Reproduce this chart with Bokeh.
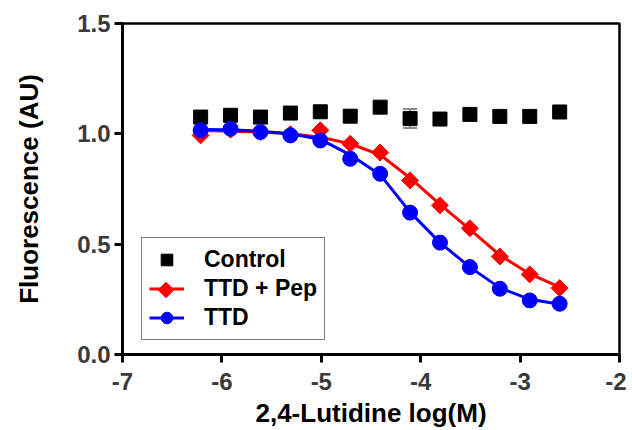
import numpy as np
from bokeh.plotting import figure
from bokeh.models import (Range1d, FixedTicker, PrintfTickFormatter, Legend,
                          LegendItem, ColumnDataSource, Whisker, TeeHead)
from bokeh.embed import file_html
from bokeh.resources import INLINE

# ---- data ----
log_conc = [-6.214, -5.913, -5.612, -5.311, -5.010, -4.709, -4.408,
            -4.107, -3.806, -3.505, -3.204, -2.903, -2.602]
control = [1.076, 1.084, 1.076, 1.094, 1.100, 1.080, 1.121,
           1.069, 1.067, 1.088, 1.079, 1.079, 1.099]
ttd_pep = [0.993, 1.019, 1.008, 0.998, 1.016, 0.955, 0.915,
           0.789, 0.676, 0.572, 0.444, 0.363, 0.301]
ttd = [1.016, 1.023, 1.008, 0.993, 0.970, 0.887, 0.819,
       0.643, 0.507, 0.396, 0.298, 0.245, 0.230]
# fitted curves, read at the same concentrations
ttd_pep_fit = [1.015, 1.012, 1.008, 1.000, 0.985, 0.955, 0.905,
               0.800, 0.680, 0.567, 0.450, 0.365, 0.305]
ttd_fit = [1.020, 1.018, 1.012, 1.000, 0.975, 0.905, 0.815,
           0.645, 0.507, 0.396, 0.302, 0.250, 0.228]
# the one visible control error bar
err_x = [-4.107]
err_lo = [1.026]
err_hi = [1.112]

x_ticks = [-7, -6, -5, -4, -3, -2]
y_ticks = [0.0, 0.5, 1.0, 1.5]

FONT = "Liberation Sans"
X0, X1, Y0, Y1 = -7, -2, 0, 1.5
W, H = 626, 430
BL, BR, BT, BB = 122, 7, 23, 76

p = figure(width=W, height=H, output_backend="svg", toolbar_location=None,
           x_range=Range1d(X0, X1), y_range=Range1d(Y0, Y1),
           min_border_left=BL, min_border_right=BR, min_border_top=BT,
           min_border_bottom=BB)
p.background_fill_color = "white"
p.border_fill_color = "white"
p.grid.visible = False
p.outline_line_color = "black"
p.outline_line_width = 2.5

for ax in (p.xaxis[0], p.yaxis[0]):
    ax.axis_line_width = 3
    ax.axis_line_color = "black"
    ax.major_tick_line_width = 3
    ax.major_tick_line_color = "black"
    ax.major_tick_out = 8
    ax.major_tick_in = 0
    ax.minor_tick_line_color = None
    ax.major_label_text_font = FONT
    ax.major_label_text_font_style = "bold"
    ax.major_label_text_font_size = "24px"
    ax.major_label_text_color = "#3a3a3a"
    ax.axis_label_text_font = FONT
    ax.axis_label_text_font_style = "bold"
    ax.axis_label_text_font_size = "26px"
    ax.axis_label_text_color = "black"

p.xaxis.ticker = FixedTicker(ticks=x_ticks)
p.yaxis.ticker = FixedTicker(ticks=y_ticks)
p.xaxis.formatter = PrintfTickFormatter(format="%d")
p.yaxis.formatter = PrintfTickFormatter(format="%.1f")
p.xaxis.axis_label = "2,4-Lutidine log(M)"
p.yaxis.axis_label = "Fluorescence (AU)"
p.xaxis.major_label_standoff = 10
p.xaxis.axis_label_standoff = 5
p.yaxis.major_label_standoff = 4
p.yaxis.axis_label_standoff = 30

src = ColumnDataSource(dict(x=log_conc, control=control, pep=ttd_pep, ttd=ttd,
                            pep_fit=ttd_pep_fit, ttd_fit=ttd_fit))
esrc = ColumnDataSource(dict(x=err_x, lo=err_lo, hi=err_hi))

p.add_layout(Whisker(source=esrc, base="x", lower="lo", upper="hi",
                     line_color="#8a8a8a", line_width=2,
                     lower_head=TeeHead(size=14, line_color="#8a8a8a", line_width=2),
                     upper_head=TeeHead(size=14, line_color="#8a8a8a", line_width=2)))

sq = p.scatter("x", "control", source=src, marker="square", size=14,
               fill_color="black", line_color="black")

red_line = p.line("x", "pep_fit", source=src, line_color="#ff0000", line_width=3)
red_sc = p.scatter("x", "pep", source=src, marker="square", angle=np.pi / 4,
                   size=12, fill_color="#ff0000", line_color="#ff0000")

blue_line = p.line("x", "ttd_fit", source=src, line_color="#0000ff", line_width=3)
blue_sc = p.scatter("x", "ttd", source=src, marker="circle", size=15,
                    fill_color="#0000ff", line_color="#0000ff")

LX, LY, PAD, GW, GH = 19, 14, 7, 35, 29
legend = Legend(items=[
    LegendItem(label="Control", renderers=[sq]),
    LegendItem(label="TTD + Pep", renderers=[red_line]),
    LegendItem(label="TTD", renderers=[blue_line, blue_sc]),
], location=(LX, LY))
legend.margin = 0
legend.padding = PAD
legend.spacing = 0
legend.glyph_width = GW
legend.glyph_height = GH
legend.label_height = GH
legend.label_standoff = 20
legend.label_text_font = FONT
legend.label_text_font_style = "bold"
legend.label_text_font_size = "23px"
legend.label_text_color = "black"
legend.border_line_color = "black"
legend.border_line_width = 1.5
legend.background_fill_alpha = 0   # transparent, so the diamond key below shows
p.add_layout(legend, "center")

# diamond key for the "TTD + Pep" legend entry
fw = W - BL - BR
fh = H - BT - BB
key_sx = LX + PAD + GW / 2
key_sy = LY + PAD + GH / 2 + GH
key_x = X0 + key_sx * (X1 - X0) / fw
key_y = Y0 + key_sy * (Y1 - Y0) / fh
p.scatter(x=[key_x], y=[key_y], marker="square", angle=np.pi / 4, size=11,
          fill_color="#ff0000", line_color="#ff0000")

open("out.html", "w").write(file_html(p, INLINE))
